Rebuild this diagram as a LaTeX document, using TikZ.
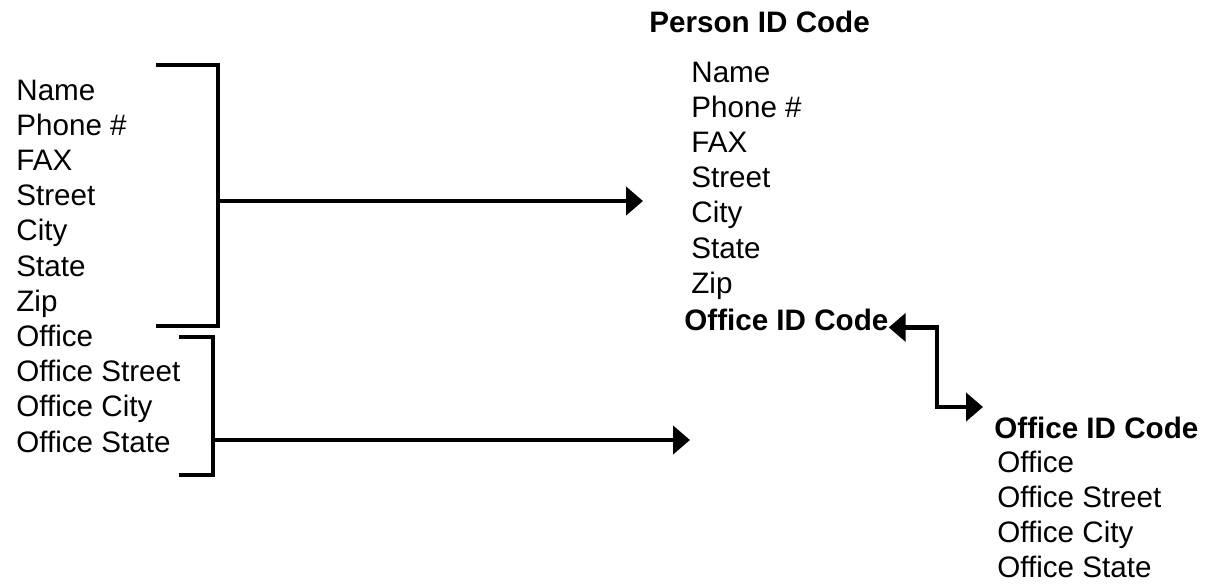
\documentclass[tikz,border=0pt]{standalone}
\usepackage{fontspec}
\setmainfont{Liberation Sans}
\usetikzlibrary{arrows.meta}

\tikzset{
  field/.style={anchor=base west, inner sep=0pt, font=\fontsize{14.8}{17.8}\selectfont},
  keyfield/.style={field, font=\fontsize{14.8}{17.8}\selectfont\bfseries},
  bracket/.style={line width=2.3pt},
  link/.style={line width=2.3pt, -{Triangle[length=8.5pt,width=14pt]}},
  dlink/.style={line width=2.3pt, {Triangle[length=8.5pt,width=14pt]}-{Triangle[length=8.5pt,width=14pt]}},
}

\begin{document}
\begin{tikzpicture}[x=0.5pt, y=-0.5pt]
\useasboundingbox (0,0) rectangle (1215,585);

% --- Flat record (left) ---
\foreach \t [count=\i] in {Name, Phone \#, FAX, Street, City, State, Zip,
                           Office, Office Street, Office City, Office State}
  \node[field] (f\i) at (16, {100+35.2*(\i-1)}) {\t};

% --- Brackets ---
% person part
\draw[bracket] (156,65) -- (218,65) -- (218,326) -- (156,326);
\coordinate (pb) at (218,201);
% office part
\draw[bracket] (179,337) -- (213,337) -- (213,475) -- (179,475);
\coordinate (ob) at (213,440);

% --- Person table ---
\node[keyfield] (person) at (649,32) {Person ID Code};
\foreach \t [count=\i] in {Name, Phone \#, FAX, Street, City, State, Zip}
  \node[field] (p\i) at (691, {82+35.2*(\i-1)}) {\t};
\node[keyfield] (poid) at (684,330) {Office ID Code};

% --- Office table ---
\node[keyfield] (office) at (994,438) {Office ID Code};
\foreach \t [count=\i] in {Office, Office Street, Office City, Office State}
  \node[field] (o\i) at (997, {472+35*(\i-1)}) {\t};

% --- Arrows ---
\coordinate (pin) at (643,201);
\coordinate (oin) at (690,440);
\draw[link] (pb) -- (pin);
\draw[link] (ob) -- (oin);

% key link between the tables
\coordinate (ojoin) at (937,407);
\draw[dlink] ([yshift=-4pt]poid.east) -| (ojoin) -- ++(46,0);

\end{tikzpicture}
\end{document}
